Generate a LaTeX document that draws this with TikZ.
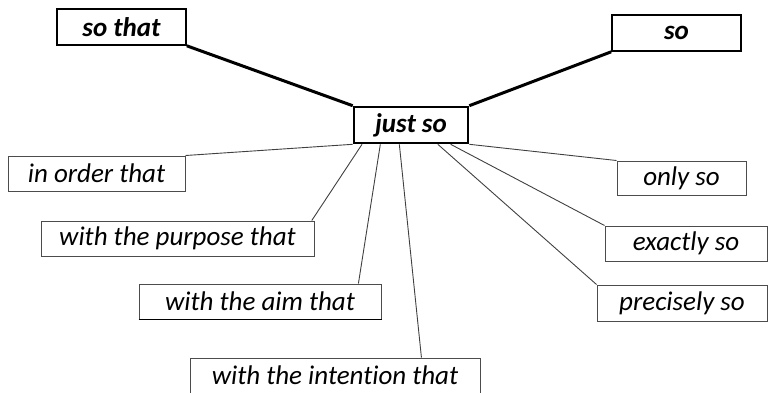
\documentclass[tikz,border=0pt]{standalone}
\usepackage{fontspec}
\setmainfont{Carlito}[Ligatures=NoCommon]
\usetikzlibrary{calc}
\tikzset{
  x=1pt,y=-1pt,
  lbox/.style={draw=black!70,line width=1pt,minimum height=35pt,inner sep=0pt,font=\fontsize{27}{30}\selectfont\itshape},
  hbox/.style={draw=black,line width=1.6pt,minimum height=36pt,inner sep=0pt,font=\fontsize{27}{30}\selectfont\bfseries\itshape},
  thin/.style={draw=black!75,line width=0.9pt},
  thick/.style={draw=black,line width=3pt},
}
\begin{document}
\begin{tikzpicture}
\useasboundingbox (0,0) rectangle (768,392);
\node[hbox,minimum width=129pt] (sothat) at (121.5,27) {so that};
\node[hbox,minimum width=129pt] (so) at (676.5,33) {so};
\node[hbox,line width=2.6pt,minimum width=114pt] (justso) at (411,125) {just so};
\node[lbox,minimum width=177pt] (inorder) at (96.5,173.5) {in order that};
\node[lbox,minimum width=129pt,minimum height=34pt] (onlyso) at (681.5,178) {only so};
\node[lbox,minimum width=273pt] (purpose) at (177.5,238.5) {with the purpose that};
\node[lbox,minimum width=242pt] (aim) at (260,301.5) {with the aim that};
\node[lbox,minimum width=290pt] (intention) at (335,375.5) {with the intention that};
\node[lbox,minimum width=162pt] (exactly) at (686,243.5) {exactly so};
\node[lbox,minimum width=170pt,minimum height=36pt] (precisely) at (682,303) {precisely so};
\draw[line width=1.6pt] (aim.south west) -- (aim.south east);
\draw[thick] (sothat.south east) -- (justso.north west);
\draw[thick] (so.south west) -- (justso.north east);
\draw[thin] (inorder.north east) -- (justso.south west);
\draw[thin] ($(purpose.north west)!0.99!(purpose.north east)$) -- ($(justso.south west)!0.08!(justso.south east)$);
\draw[thin] ($(aim.north west)!0.905!(aim.north east)$) -- ($(justso.south west)!0.237!(justso.south east)$);
\draw[thin] ($(intention.north west)!0.797!(intention.north east)$) -- ($(justso.south west)!0.40!(justso.south east)$);
\draw[thin] (precisely.north west) -- ($(justso.south west)!0.73!(justso.south east)$);
\draw[thin] (exactly.north west) -- ($(justso.south west)!0.84!(justso.south east)$);
\draw[thin] (onlyso.north west) -- (justso.south east);
\end{tikzpicture}
\end{document}
